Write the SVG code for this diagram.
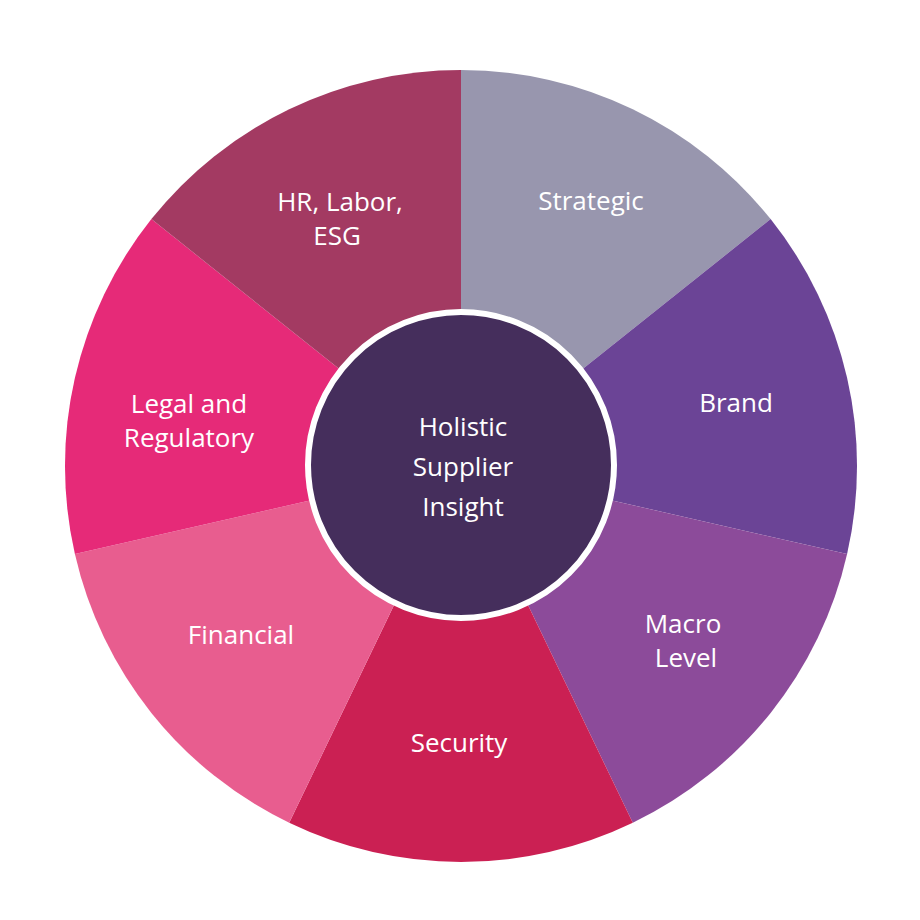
<svg xmlns="http://www.w3.org/2000/svg" width="920" height="920" viewBox="0 0 920 920">
<style>
text{font-family:"Open Sans","Liberation Sans",sans-serif;font-size:26px;fill:#fff;text-anchor:middle}
</style>
<rect width="920" height="920" fill="#fff"/>
<g id="seg-strategic"><path d="M461,466 L461,70 A396,396 0 0 1 770.6,219.1 Z" fill="#9896AE"/><text x="591" y="210">Strategic</text></g>
<g id="seg-brand"><path d="M461,466 L770.6,219.1 A396,396 0 0 1 847.1,554.1 Z" fill="#6B4496"/><text x="736" y="412">Brand</text></g>
<g id="seg-macro"><path d="M461,466 L847.1,554.1 A396,396 0 0 1 632.8,822.8 Z" fill="#8C4B9A"/><text x="683" y="633">Macro</text><text x="686" y="667">Level</text></g>
<g id="seg-security"><path d="M461,466 L632.8,822.8 A396,396 0 0 1 289.2,822.8 Z" fill="#CB2053"/><text x="459" y="752">Security</text></g>
<g id="seg-financial"><path d="M461,466 L289.2,822.8 A396,396 0 0 1 74.9,554.1 Z" fill="#E85D8F"/><text x="241" y="644">Financial</text></g>
<g id="seg-legal"><path d="M461,466 L74.9,554.1 A396,396 0 0 1 151.4,219.1 Z" fill="#E62A78"/><text x="189" y="413">Legal and</text><text x="189" y="447">Regulatory</text></g>
<g id="seg-hr"><path d="M461,466 L151.4,219.1 A396,396 0 0 1 461,70 Z" fill="#A33A62"/><text x="340" y="211">HR, Labor,</text><text x="337" y="245">ESG</text></g>
<g id="center"><circle cx="461" cy="465" r="153" fill="#452E5C" stroke="#fff" stroke-width="6"/><text x="463" y="436">Holistic</text><text x="463" y="476">Supplier</text><text x="463" y="516">Insight</text></g>
<g id="connectors"/>
</svg>
